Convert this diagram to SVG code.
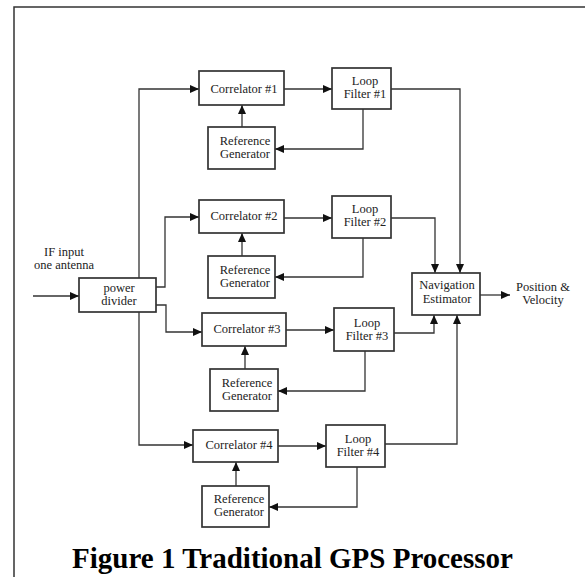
<svg xmlns="http://www.w3.org/2000/svg" width="585" height="577" viewBox="0 0 585 577">
<style>
.box{fill:#fff;stroke:#333;stroke-width:1.7}
.ln{fill:none;stroke:#333;stroke-width:1.3;marker-end:url(#ah)}
.t{font-family:"Liberation Serif","Times New Roman",serif;font-size:12.5px;fill:#222;text-anchor:middle}
.title{font-family:"Liberation Serif","Times New Roman",serif;font-size:29px;font-weight:bold;fill:#000;text-anchor:middle}
</style>
<defs>
<marker id="ah" markerUnits="userSpaceOnUse" markerWidth="10" markerHeight="9" refX="9" refY="4" orient="auto">
<path d="M0,0 L9,4 L0,8 z" fill="#111"/>
</marker>
</defs>
<rect width="585" height="577" fill="#fff"/>
<path d="M14,577 V7 H585" fill="none" stroke="#333" stroke-width="1.5"/>
<g id="connectors">
<path class="ln" d="M33,296 H79"/>
<path class="ln" d="M139,278 V89 H199"/>
<path class="ln" d="M156,287 H165 V217 H199"/>
<path class="ln" d="M156,305 H166 V332 H202"/>
<path class="ln" d="M139,312 V445 H193"/>
<path class="ln" d="M284,89 H332"/>
<path class="ln" d="M284,218 H332"/>
<path class="ln" d="M286,330 H334"/>
<path class="ln" d="M278,446 H326"/>
<path class="ln" d="M242,127 V105"/>
<path class="ln" d="M242,256 V233"/>
<path class="ln" d="M245,369 V346"/>
<path class="ln" d="M236,486 V462"/>
<path class="ln" d="M363,109 V149 H275"/>
<path class="ln" d="M363,238 V277 H275"/>
<path class="ln" d="M365,351 V391 H278"/>
<path class="ln" d="M357,467 V507 H269"/>
<path class="ln" d="M391,89 H460 V273"/>
<path class="ln" d="M391,218 H435 V273"/>
<path class="ln" d="M394,333 H434 V315"/>
<path class="ln" d="M385,444 H457 V315"/>
<path class="ln" d="M480,295 H510"/>
</g>
<g id="if-input"><text class="t" x="64" y="256">IF input</text><text class="t" x="64" y="269">one antenna</text></g>
<g id="power-divider"><rect class="box" x="79" y="278" width="77" height="34"/><text class="t" x="119" y="292">power</text><text class="t" x="119" y="305">divider</text></g>
<g id="correlator1"><rect class="box" x="199" y="71" width="85" height="34"/><text class="t" x="244" y="93">Correlator #1</text></g>
<g id="refgen1"><rect class="box" x="208" y="127" width="67" height="42"/><text class="t" x="245" y="145">Reference</text><text class="t" x="245" y="158">Generator</text></g>
<g id="loopfilter1"><rect class="box" x="332" y="68" width="59" height="41"/><text class="t" x="365" y="85">Loop</text><text class="t" x="365" y="98">Filter #1</text></g>
<g id="correlator2"><rect class="box" x="199" y="200" width="85" height="33"/><text class="t" x="244" y="220">Correlator #2</text></g>
<g id="refgen2"><rect class="box" x="208" y="256" width="67" height="42"/><text class="t" x="245" y="274">Reference</text><text class="t" x="245" y="287">Generator</text></g>
<g id="loopfilter2"><rect class="box" x="332" y="196" width="59" height="42"/><text class="t" x="365" y="213">Loop</text><text class="t" x="365" y="226">Filter #2</text></g>
<g id="correlator3"><rect class="box" x="202" y="313" width="84" height="33"/><text class="t" x="247" y="333">Correlator #3</text></g>
<g id="refgen3"><rect class="box" x="210" y="369" width="68" height="42"/><text class="t" x="247" y="387">Reference</text><text class="t" x="247" y="400">Generator</text></g>
<g id="loopfilter3"><rect class="box" x="334" y="308" width="60" height="43"/><text class="t" x="367" y="327">Loop</text><text class="t" x="367" y="340">Filter #3</text></g>
<g id="correlator4"><rect class="box" x="193" y="430" width="85" height="32"/><text class="t" x="239" y="449">Correlator #4</text></g>
<g id="refgen4"><rect class="box" x="202" y="486" width="67" height="41"/><text class="t" x="239" y="503">Reference</text><text class="t" x="239" y="516">Generator</text></g>
<g id="loopfilter4"><rect class="box" x="326" y="425" width="59" height="42"/><text class="t" x="358" y="443">Loop</text><text class="t" x="358" y="456">Filter #4</text></g>
<g id="nav-estimator"><rect class="box" x="412" y="273" width="68" height="42"/><text class="t" x="447" y="289">Navigation</text><text class="t" x="447" y="303">Estimator</text></g>
<g id="output"><text class="t" x="543" y="291">Position &amp;</text><text class="t" x="543" y="304">Velocity</text></g>
<text class="title" x="292.5" y="568">Figure 1 Traditional GPS Processor</text>
</svg>
